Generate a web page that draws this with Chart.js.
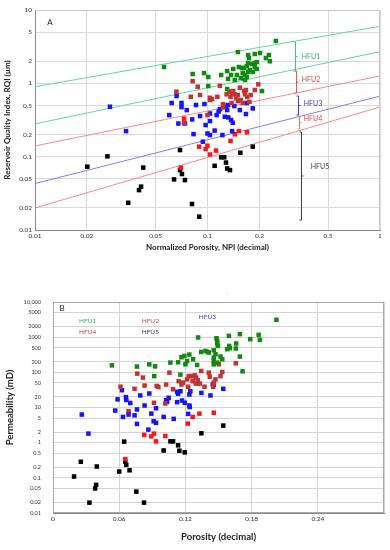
<!DOCTYPE html>
<html>
<head>
<meta charset="utf-8">
<script src="https://cdn.jsdelivr.net/npm/chart.js@4"></script>
<style>
  body { margin: 0; background: #fff; width: 390px; height: 550px; position: relative; overflow: hidden; }
  canvas { position: absolute; left: 0; }
  #chartA { top: 0; }
  #chartB { top: 280px; }
</style>
</head>
<body>
<canvas id="chartA" width="390" height="255"></canvas>
<canvas id="chartB" width="390" height="270"></canvas>
<script>
// ---- chart A: RQI vs NPI ----
const npiTicks = [0.01, 0.02, 0.05, 0.1, 0.2, 0.5, 1];
const rqiTicks = [0.01, 0.02, 0.05, 0.1, 0.2, 0.5, 1, 2, 5, 10];

const hfu1A = [[0.056,1.67],[0.082,1.34],[0.0955,1.38],[0.101,1.22],[0.12,1.30],[0.13,1.47],[0.137,1.30],[0.1315,1.15],
  [0.141,1.57],[0.148,1.30],[0.150,2.67],[0.152,1.67],[0.144,1.11],[0.1585,1.62],[0.163,1.62],[0.169,1.72],[0.172,2.43],
  [0.174,2.21],[0.172,1.89],[0.172,1.43],[0.165,1.11],[0.169,1.22],[0.188,2.51],[0.2015,2.59],[0.218,2.21],[0.227,2.43],
  [0.230,2.0],[0.249,3.78],[0.188,1.89],[0.193,1.95],[0.188,1.67],[0.193,1.57],[0.183,1.43],[0.16,1.38],[0.156,1.18],
  [0.101,0.918],[0.13,0.836],[0.207,0.785],[0.165,1.30],[0.176,1.52],[0.181,1.83]];
const hfu2A = [[0.066,0.770],[0.082,1.07],[0.0878,0.90],[0.080,0.655],[0.0905,0.693],[0.1034,0.635],[0.1062,0.611],
  [0.114,0.655],[0.118,0.925],[0.129,0.708],[0.134,0.770],[0.136,0.655],[0.141,0.785],[0.144,0.708],[0.147,0.625],
  [0.150,0.693],[0.154,0.872],[0.156,0.592],[0.165,0.708],[0.167,0.811],[0.170,0.655],[0.178,0.693],[0.188,0.811],
  [0.197,0.97],[0.175,0.56],[0.138,0.54],[0.123,0.52],[0.16,0.54],[0.1034,0.592],[0.15,0.574],[0.123,0.47],[0.1,0.369],
  [0.0731,0.287],[0.139,0.738],[0.163,0.785]];
const hfu3A = [[0.0272,0.48],[0.0337,0.223],[0.062,0.54],[0.0707,0.54],[0.0707,0.473],[0.0758,0.432],[0.0662,0.671],
  [0.0858,0.506],[0.096,0.522],[0.06,0.369],[0.0678,0.283],[0.074,0.283],[0.0815,0.322],[0.0905,0.358],[0.1034,0.388],
  [0.0975,0.27],[0.1034,0.306],[0.113,0.369],[0.116,0.413],[0.118,0.445],[0.128,0.48],[0.131,0.506],[0.13,0.432],
  [0.143,0.49],[0.154,0.432],[0.169,0.54],[0.183,0.455],[0.167,0.381],[0.126,0.35],[0.132,0.343],[0.137,0.316],
  [0.14,0.29],[0.11,0.227],[0.139,0.223],[0.083,0.203],[0.1,0.207],[0.1034,0.197],[0.122,0.197],[0.094,0.16]];
const hfu4A = [[0.0731,0.33],[0.152,0.223],[0.169,0.215],[0.144,0.202],[0.136,0.164],[0.0895,0.137],[0.0975,0.127],
  [0.1,0.141],[0.1034,0.107],[0.112,0.121],[0.07,0.0708]];
const hfu5A = [[0.0201,0.073],[0.0263,0.101],[0.0347,0.0235],[0.0401,0.035],[0.0412,0.039],[0.0424,0.071],[0.0693,0.123],
  [0.0693,0.0656],[0.0711,0.058],[0.064,0.049],[0.074,0.048],[0.0813,0.0226],[0.0895,0.0152],[0.11,0.075],[0.12,0.098],
  [0.125,0.098],[0.128,0.083],[0.13,0.069],[0.135,0.0656],[0.155,0.113],[0.183,0.137]];

// boundary lines between flow units (end points)
const line1A = [[0.01, 0.9], [1, 6.0]];
const line2A = [[0.01, 0.28], [1, 2.7]];
const line3A = [[0.01, 0.14], [1, 1.26]];
const line4A = [[0.01, 0.043], [1, 0.67]];
const line5A = [[0.01, 0.02], [1, 0.475]];

// brackets on the right: x, top, bottom, label position
const bracketNames = ['HFU1', 'HFU2', 'HFU3', 'HFU4', 'HFU5'];
const bracketX = [0.32, 0.325, 0.335, 0.34, 0.35];
const bracketTop = [3.66, 1.47, 0.671, 0.358, 0.217];
const bracketBottom = [1.47, 0.738, 0.369, 0.238, 0.0137];
const bracketLabelX = [0.398, 0.398, 0.409, 0.409, 0.449];
const bracketLabelY = [2.28, 1.11, 0.522, 0.326, 0.0721];

// ---- chart B: permeability vs porosity ----
const porTicks = [0, 0.06, 0.12, 0.18, 0.24, 0.3];
const porLabels = ['0', '0.06', '0.12', '0.18', '0.24', ''];
const permTicks = [0.01, 0.02, 0.05, 0.1, 0.2, 0.5, 1, 2, 5, 10, 20, 50, 100, 200, 500, 1000, 2000, 5000, 10000];

const hfu1B = [[0.0534,158],[0.0761,146],[0.0873,169],[0.0925,148],[0.0918,78],[0.1064,189],[0.1134,193],[0.1164,268],
  [0.1155,86],[0.1215,210],[0.1236,320],[0.127,235],[0.1306,162],[0.1315,980],[0.1343,380],[0.1382,406],[0.1403,380],
  [0.1457,263],[0.1457,425],[0.1457,210],[0.1457,169],[0.1482,930],[0.1488,784],[0.1488,661],[0.1494,564],[0.1473,327],
  [0.1488,189],[0.1518,281],[0.1534,235],[0.1594,1089],[0.1597,564],[0.1603,485],[0.1579,454],[0.166,661],[0.1657,476],
  [0.1694,1220],[0.1694,281],[0.1788,877],[0.1864,1164],[0.1875,837],[0.2025,3120],[0.1718,107],[0.12,169],[0.1191,292],
  [0.1412,366]];
const hfu2B = [[0.0764,92],[0.0815,71],[0.0612,39],[0.0739,34],[0.083,42],[0.0939,41],[0.0955,38],[0.1025,45],[0.1055,98],
  [0.1088,33],[0.1139,56],[0.1179,51],[0.1215,63],[0.123,78],[0.1245,78],[0.127,78],[0.1285,82],[0.1297,71],[0.1312,60],
  [0.1266,56],[0.1294,48],[0.1312,48],[0.133,48],[0.1225,39],[0.1164,45],[0.1343,109],[0.1412,98],[0.1421,75],
  [0.1534,102],[0.1518,78],[0.1457,51],[0.1452,39],[0.1503,169],[0.1657,181],[0.0915,13.6],[0.1018,13],[0.1373,39],
  [0.1473,63]];
const hfu3B = [[0.0261,6.3],[0.0321,1.81],[0.0564,8.2],[0.0585,17],[0.0625,31],[0.0661,19.7],[0.0664,16.4],[0.07,13.4],
  [0.0634,5.4],[0.0685,6.3],[0.0739,6.0],[0.0761,8.8],[0.0761,3.42],[0.0791,22],[0.083,11.4],[0.0864,2.35],[0.0873,25],
  [0.0891,6.7],[0.0912,4.06],[0.0934,3.66],[0.0934,9.5],[0.1003,5.4],[0.1025,16.2],[0.1034,14.4],[0.1048,18.9],
  [0.1094,4.75],[0.1125,28],[0.1134,24.6],[0.1155,29],[0.1125,14.2],[0.117,15.8],[0.1194,13.6],[0.1225,6.6],[0.1236,23.5],
  [0.1245,29],[0.1236,11.4],[0.1239,10.3],[0.1345,26],[0.1427,22],[0.1448,45],[0.1457,44],[0.1543,34]];
const hfu4B = [[0.0685,7.8],[0.1221,3.49],[0.1266,5.4],[0.1327,6.7],[0.1457,7.1],[0.0827,1.66],[0.0891,1.51],[0.0915,1.81],
  [0.1018,1.55],[0.0934,1.09],[0.0655,0.342]];
const hfu5B = [[0.0645,1.07],[0.1543,3.06],[0.1345,1.85],[0.1064,1.09],[0.1088,1.09],[0.1134,0.84],[0.1003,0.60],
  [0.1145,0.59],[0.1194,0.53],[0.0252,0.286],[0.0397,0.21],[0.06,0.151],[0.0664,0.235],[0.0694,0.164],[0.0191,0.109],
  [0.0391,0.063],[0.0382,0.05],[0.0755,0.0406],[0.033,0.0197],[0.0825,0.0197],[0.0655,0.29]];

const legendNamesB = ['HFU1', 'HFU2', 'HFU3', 'HFU4', 'HFU5'];
const legendXB = [0.0314, 0.0882, 0.14, 0.0314, 0.0882];
const legendYB = [2925, 2925, 3660, 1456, 1456];

// colours
const cGreen = '#128a12', cDarkRed = '#c43333', cRed = '#ff1414', cBlue = '#1414ff', cBlack = '#000000';
const lineGreen = 'rgb(95,215,165)', lineRed = 'rgb(255,135,135)', lineBlue = 'rgb(130,130,235)';
const textColors = ['#2fb36e', '#e04444', '#3a3ad0', '#e04444', '#404040'];
const bracketColors = ['rgb(60,200,130)', 'rgb(240,80,80)', 'rgb(60,60,215)', 'rgb(255,110,110)', '#404040'];

Chart.defaults.font.family = 'Lato, "Open Sans", sans-serif';
Chart.defaults.color = '#333';

const toXY = arr => arr.map(p => ({x: p[0], y: p[1]}));

function pts(data, color) {
  return {
    data: toXY(data), pointStyle: 'rect', pointRadius: 3.2,
    pointBackgroundColor: color, pointBorderColor: color, pointBorderWidth: 0,
    showLine: false, order: 0
  };
}
function seg(data, color) {
  return {
    data: toXY(data), showLine: true, borderColor: color, borderWidth: 1,
    pointRadius: 0, order: 1
  };
}

const overlayA = {
  id: 'overlayA',
  afterDatasetsDraw(chart) {
    const {ctx, scales: {x, y}, chartArea} = chart;
    ctx.save();
    ctx.lineWidth = 1;
    for (let i = 0; i < bracketNames.length; i++) {
      const px = Math.round(x.getPixelForValue(bracketX[i])) + 0.5;
      const y1 = y.getPixelForValue(bracketTop[i]);
      const y2 = y.getPixelForValue(bracketBottom[i]);
      const ym = (y1 + y2) / 2;
      ctx.strokeStyle = bracketColors[i];
      ctx.beginPath();
      ctx.moveTo(px - 2, y1); ctx.lineTo(px, y1);
      ctx.lineTo(px, y2); ctx.lineTo(px - 2, y2);
      ctx.moveTo(px, ym); ctx.lineTo(px + 2, ym);
      ctx.stroke();
      ctx.fillStyle = textColors[i];
      ctx.font = '7px Lato, "Open Sans", sans-serif';
      ctx.textAlign = 'center';
      ctx.textBaseline = 'middle';
      ctx.fillText(bracketNames[i], x.getPixelForValue(bracketLabelX[i]), y.getPixelForValue(bracketLabelY[i]));
    }
    ctx.strokeStyle = '#c8c8c8';
    ctx.beginPath();
    ctx.moveTo(chartArea.left, chartArea.top + 0.5); ctx.lineTo(chartArea.right - 0.5, chartArea.top + 0.5);
    ctx.lineTo(chartArea.right - 0.5, chartArea.bottom);
    ctx.stroke();
    ctx.fillStyle = '#222';
    ctx.font = '8px Lato, "Open Sans", sans-serif';
    ctx.textAlign = 'center';
    ctx.fillText('A', chartArea.left + 15, chartArea.top + 12);
    ctx.restore();
  }
};

const overlayB = {
  id: 'overlayB',
  afterDatasetsDraw(chart) {
    const {ctx, scales: {x, y}, chartArea} = chart;
    ctx.save();
    ctx.font = '6.5px Lato, "Open Sans", sans-serif';
    ctx.textAlign = 'center';
    ctx.textBaseline = 'middle';
    for (let i = 0; i < legendNamesB.length; i++) {
      ctx.fillStyle = textColors[i];
      ctx.fillText(legendNamesB[i], x.getPixelForValue(legendXB[i]), y.getPixelForValue(legendYB[i]));
    }
    ctx.strokeStyle = '#a8a8a8';
    ctx.lineWidth = 1;
    ctx.strokeRect(chartArea.left + 0.5, chartArea.top + 0.5, chartArea.right - chartArea.left - 1, chartArea.bottom - chartArea.top - 1);
    ctx.fillStyle = '#222';
    ctx.font = '8px Lato, "Open Sans", sans-serif';
    ctx.fillText('B', chartArea.left + 9, chartArea.top + 6);
    ctx.fillStyle = '#777';
    ctx.font = '6px Lato, "Open Sans", sans-serif';
    ctx.fillText('.', chartArea.left + 174, chartArea.top - 10);
    ctx.restore();
  }
};

const tickFontA = {size: 6.5};
const titleFontA = {size: 8, weight: 'bold'};
const tickFontBx = {size: 6.5};
const tickFontBy = {size: 5.5};
const titleFontB = {size: 9.5, weight: 'bold'};

new Chart(document.getElementById('chartA'), {
  type: 'scatter',
  data: {
    datasets: [
      pts(hfu1A, cGreen), pts(hfu2A, cDarkRed), pts(hfu3A, cBlue), pts(hfu4A, cRed), pts(hfu5A, cBlack),
      seg(line1A, lineGreen), seg(line2A, lineGreen), seg(line3A, lineRed), seg(line4A, lineBlue), seg(line5A, lineRed)
    ]
  },
  options: {
    responsive: false,
    animation: false,
    layout: {padding: {top: 10, right: 10, left: 0, bottom: 0}},
    plugins: {legend: {display: false}, tooltip: {enabled: false}},
    scales: {
      x: {
        type: 'logarithmic', min: 0.01, max: 1,
        afterBuildTicks: s => { s.ticks = npiTicks.map(v => ({value: v})); },
        afterFit: s => { s.height = 25; },
        ticks: {autoSkip: false, maxRotation: 0, padding: 2, font: tickFontA, callback: v => String(v)},
        grid: {color: '#dadada', drawTicks: false},
        border: {color: '#8a8a8a'},
        title: {display: true, text: 'Normalized Porosity, NPI (decimal)', font: titleFontA, color: '#222', padding: {top: 0, bottom: 3}}
      },
      y: {
        type: 'logarithmic', min: 0.01, max: 10,
        afterBuildTicks: s => { s.ticks = rqiTicks.map(v => ({value: v})); },
        afterFit: s => { s.width = 35; },
        ticks: {autoSkip: false, padding: 3, font: tickFontA, callback: v => String(v)},
        grid: {color: '#dadada', drawTicks: false},
        border: {color: '#8a8a8a'},
        title: {display: true, text: 'Reservoir Quality Index, RQI (µm)', font: titleFontA, color: '#222', padding: {top: 3, bottom: 0}}
      }
    }
  },
  plugins: [overlayA]
});

new Chart(document.getElementById('chartB'), {
  type: 'scatter',
  data: {
    datasets: [
      pts(hfu1B, cGreen), pts(hfu2B, cDarkRed), pts(hfu3B, cBlue), pts(hfu4B, cRed), pts(hfu5B, cBlack)
    ]
  },
  options: {
    responsive: false,
    animation: false,
    layout: {padding: {top: 22, right: 6, left: 0, bottom: 0}},
    plugins: {legend: {display: false}, tooltip: {enabled: false}},
    scales: {
      x: {
        type: 'linear', min: 0, max: 0.3,
        afterBuildTicks: s => { s.ticks = porTicks.map(v => ({value: v})); },
        afterFit: s => { s.height = 37; },
        ticks: {autoSkip: false, maxRotation: 0, padding: 2, font: tickFontBx, callback: (v, i) => porLabels[i]},
        grid: {color: '#d4d4d4', drawTicks: false},
        border: {color: '#8a8a8a'},
        title: {display: true, text: 'Porosity (decimal)', font: titleFontB, color: '#222', padding: {top: 0, bottom: 7}}
      },
      y: {
        type: 'logarithmic', min: 0.01, max: 10000,
        afterBuildTicks: s => { s.ticks = permTicks.map(v => ({value: v})); },
        afterFit: s => { s.width = 53; },
        ticks: {autoSkip: false, padding: 12, font: tickFontBy, callback: v => v === 10000 ? '10,000' : String(v)},
        grid: {color: '#d4d4d4', drawTicks: false},
        border: {color: '#8a8a8a'},
        title: {display: true, text: 'Permeability (mD)', font: titleFontB, color: '#222', padding: {top: 4, bottom: 0}}
      }
    }
  },
  plugins: [overlayB]
});
</script>
</body>
</html>
